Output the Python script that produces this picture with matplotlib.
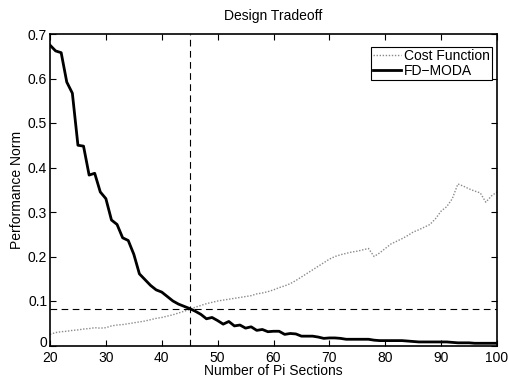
import numpy as np
import matplotlib.pyplot as plt
from matplotlib.transforms import ScaledTranslation

plt.rcParams['font.family'] = ['Liberation Sans', 'DejaVu Sans']

sections = np.arange(20, 101)

fd_moda = [0.675, 0.662, 0.658, 0.592, 0.567, 0.450, 0.448, 0.383, 0.387, 0.345,
           0.330, 0.282, 0.272, 0.242, 0.236, 0.205, 0.161, 0.148, 0.135, 0.125,
           0.120, 0.110, 0.100, 0.093, 0.088, 0.083, 0.077, 0.070, 0.060, 0.063,
           0.056, 0.048, 0.054, 0.044, 0.046, 0.039, 0.042, 0.034, 0.036, 0.031,
           0.032, 0.032, 0.025, 0.027, 0.026, 0.021, 0.021, 0.021, 0.019, 0.016,
           0.017, 0.017, 0.016, 0.014, 0.014, 0.014, 0.014, 0.014, 0.012, 0.011,
           0.011, 0.011, 0.011, 0.011, 0.010, 0.009, 0.008, 0.008, 0.008, 0.008,
           0.008, 0.008, 0.007, 0.006, 0.006, 0.006, 0.005, 0.005, 0.005, 0.005,
           0.005]

cost = [0.025, 0.029, 0.031, 0.032, 0.034, 0.035, 0.037, 0.038, 0.040, 0.039,
        0.040, 0.044, 0.046, 0.047, 0.049, 0.051, 0.053, 0.055, 0.058, 0.061,
        0.063, 0.066, 0.069, 0.073, 0.077, 0.081, 0.086, 0.090, 0.094, 0.097,
        0.100, 0.102, 0.104, 0.106, 0.108, 0.110, 0.112, 0.116, 0.118, 0.121,
        0.125, 0.130, 0.134, 0.139, 0.146, 0.154, 0.162, 0.170, 0.178, 0.186,
        0.194, 0.200, 0.204, 0.207, 0.210, 0.212, 0.215, 0.218, 0.200, 0.208,
        0.218, 0.228, 0.234, 0.240, 0.247, 0.255, 0.260, 0.266, 0.272, 0.285,
        0.302, 0.312, 0.330, 0.363, 0.358, 0.352, 0.347, 0.343, 0.322, 0.336,
        0.345]

opt_sections = 45
opt_norm = 0.082

xticks = [20, 30, 40, 50, 60, 70, 80, 90, 100]
yticks = [0, 0.1, 0.2, 0.3, 0.4, 0.5, 0.6, 0.7]
ytick_labels = ['0', '0.1', '0.2', '0.3', '0.4', '0.5', '0.6', '0.7']

fig = plt.figure(figsize=(5.08, 3.78), dpi=100)
ax = fig.add_axes([50 / 508, 1 - 345.5 / 378, 447 / 508, 311.5 / 378])

ax.plot(sections, cost, color='#8a8a8a', linestyle=(0, (1, 1.2)), linewidth=1,
        label='Cost Function')
ax.plot(sections, fd_moda, color='black', linewidth=2, label='FD\u2212MODA')
ax.axvline(opt_sections, color='black', linestyle=(0, (6, 4)), linewidth=0.8)
ax.axhline(opt_norm, color='black', linestyle=(0, (6, 4)), linewidth=0.8)

ax.set_xlim(20, 100)
ax.set_ylim(0, 0.7)
ax.set_xticks(xticks)
ax.set_yticks(yticks)
ax.set_yticklabels(ytick_labels)
ax.tick_params(direction='in', top=True, right=True, labelsize=10, length=4,
               pad=2, width=0.8)
ax.tick_params(axis='x', pad=4)
for s in ax.spines.values():
    s.set_linewidth(1.2)

# lift the "0" a little so it clears the "20" below it
zero = ax.get_yticklabels()[0]
zero.set_transform(zero.get_transform() + ScaledTranslation(0, 4 / 100, fig.dpi_scale_trans))

ax.set_xlabel('Number of Pi Sections', fontsize=10, labelpad=-1)
ax.set_ylabel('Performance Norm', fontsize=10, labelpad=3)
ax.set_title('Design Tradeoff', fontsize=10, pad=10)

leg = ax.legend(loc='upper right', bbox_to_anchor=(492 / 508, 1 - 47 / 378),
                bbox_transform=fig.transFigure, fontsize=10, handlelength=2.0,
                handletextpad=0.2, borderpad=0.15, labelspacing=0.05,
                borderaxespad=0, fancybox=False, framealpha=1)
leg.get_frame().set_edgecolor('black')
leg.get_frame().set_linewidth(0.8)

fig.savefig('out.png', dpi=100)
